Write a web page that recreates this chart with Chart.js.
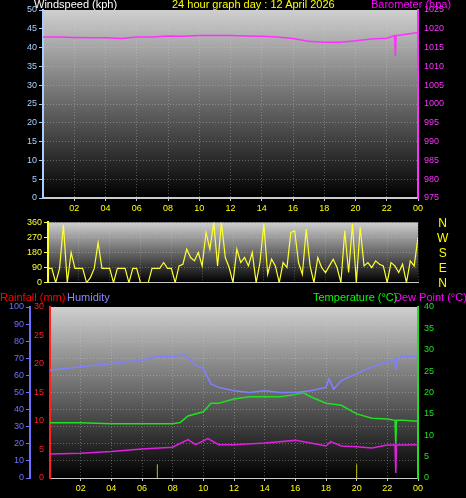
<!DOCTYPE html>
<html><head><meta charset="utf-8">
<script src="https://cdn.jsdelivr.net/npm/chart.js@4"></script>
<style>
body{margin:0;background:#000;width:466px;height:498px;overflow:hidden;font-family:"Liberation Sans",Arial,sans-serif;}
canvas{position:absolute;left:0;}
.t{position:absolute;font-size:11px;line-height:12px;white-space:nowrap;}
</style></head><body>
<canvas id="c1" width="466" height="215" style="top:0"></canvas>
<canvas id="c2" width="466" height="75" style="top:215px"></canvas>
<canvas id="c3" width="466" height="208" style="top:290px"></canvas>
<div class="t" style="left:34px;top:-2px;color:#fff">Windspeed (kph)</div>
<div class="t" style="left:172px;top:-2px;color:#ff0">24 hour graph day : 12 April 2026</div>
<div class="t" style="left:371px;top:-2px;color:#f0f">Barometer (hpa)</div>
<div class="t" style="left:437px;top:216px;color:#ff0;font-size:12px;line-height:15px;text-align:center">N<br>W<br>S<br>E<br>N</div>
<div class="t" style="left:0;top:291px;color:#f00">Rainfall (mm)</div>
<div class="t" style="left:67px;top:291px;color:#88f">Humidity</div>
<div class="t" style="left:313px;top:291px;color:#0f0">Temperature (°C)</div>
<div class="t" style="left:394px;top:291px;color:#f0f">Dew Point (°C)</div>
<script>
const hours=[0,1,2,3,4,5,6,7,8,9,10,11,12,13,14,15,16,17,18,19,20,21,22,22.5,22.55,22.6,23,24];
const pressure=[1017.8,1017.8,1017.7,1017.6,1017.6,1017.4,1017.8,1017.8,1018.1,1018.0,1018.2,1018.2,1018.2,1018.1,1018.0,1017.8,1017.4,1016.7,1016.4,1016.4,1016.8,1017.3,1017.5,1018.2,1012.8,1018.2,1018.4,1019.0];
const windSpeedHours=[0,24];
const windSpeed=[0,0];
const windDir=[85,85,0,85,345,0,180,85, 85,85,0,30,85,240,85,85, 85,0,85,85,85,0,85,85, 0,0,0,85,85,85,120,85,
85,0,100,110,200,150,130,180, 100,300,200,360,100,360,150,90, 0,200,120,150,100,180,0,120, 350,50,140,100,0,120,90,300,
310,120,50,320,100,0,150,90, 60,100,140,90,0,310,60,350, 0,330,100,120,90,130,110,100, 0,120,100,60,110,0,130,100,270];
const humHours=[0,2,4,6,7,8,8.8,9.5,10,10.5,11,12,13,14,15,16,17,18,18.2,18.5,19,20,21,22,22.5,22.55,22.6,23,24];
const humidity=[63,65,67,69,71,71,72,66,64,55,53,51,50,51,50,50,51,53,58,52,57,61,65,68,69,63,70,71,71];
const tempHours=[0,2,4,6,8,8.5,9,10,10.5,11,12,13,14,15,16,16.5,17,18,19,20,21,22,22.5,22.55,22.6,23,24];
const temperature=[12.9,12.9,12.7,12.7,12.7,13,14.5,15.5,17.5,17.5,18.5,19,19,19,19.5,20,19,17.5,17,15,14,13.8,13.5,8,13.5,13.5,13.3];
const dewHours=[0,2,4,6,8,9,9.5,10.3,11,12,14,16,17,18,18.3,19,20,21,22,22.5,22.55,22.6,23,24];
const dewPoint=[5.6,5.8,6.2,6.8,7.2,9,7.8,9.2,7.8,7.8,8.2,8.8,8.2,7.5,8.5,7.5,7.3,7,7.7,7.7,1.2,7.7,7.7,7.8];
const rainHours=[0,24];
const rainfall=[0,0];
const markHours=[7,20];
const markHeight=[3.2,3.2];
const xTicks=[2,4,6,8,10,12,14,16,18,20,22,24];
const xs=(h,v)=>h.map((x,i)=>({x,y:v[i]}));
const bg={id:'bg',beforeDraw(c){const a=c.chartArea,g=c.ctx.createLinearGradient(0,a.top,0,a.bottom);g.addColorStop(0,'#cfcfcf');g.addColorStop(1,'#000');c.ctx.fillStyle=g;c.ctx.fillRect(a.left,a.top,a.right-a.left,a.bottom-a.top);}};
Chart.defaults.font.family='"Liberation Sans",Arial,sans-serif';Chart.defaults.font.size=9;Chart.defaults.animation=false;
const gridC='rgba(210,210,210,0.35)';
function xAxis(show){return{type:'linear',min:0,max:24,afterBuildTicks:s=>{s.ticks=xTicks.map(v=>({value:v}));},
 ticks:{display:show,color:'#ffff00',callback:v=>String(v%24).padStart(2,'0'),maxRotation:0,padding:2},
 grid:{color:gridC,drawTicks:show,tickColor:'#ccc',tickLength:3},border:{dash:[1,2],color:'#ccc'},afterFit:s=>{s.height=show?17:0;}};}
function yAxis(pos,min,max,step,color,w,grid){return{position:pos,min,max,ticks:{stepSize:step,color,padding:2,callback:v=>String(v)},
 grid:{display:grid,color:gridC,tickColor:color,tickLength:4},border:{dash:[1,2],color:color,width:2},afterFit:s=>{s.width=w;}};}
const pts={pointRadius:0,borderWidth:1.5,tension:0};
new Chart(c1,{type:'line',plugins:[bg],data:{datasets:[
 {data:xs(windSpeedHours,windSpeed),borderColor:'#80ff80',...pts,borderWidth:2,yAxisID:'y'},
 {data:xs(hours,pressure),borderColor:'#ff30ff',...pts,yAxisID:'p'}]},
 options:{responsive:false,layout:{padding:{top:10,left:0,right:0,bottom:0}},plugins:{legend:{display:false},tooltip:{enabled:false}},
 scales:{x:xAxis(true),y:yAxis('left',0,50,5,'#a8d0ff',43,true),p:yAxis('right',975,1025,5,'#ff30ff',48,false)}}});
new Chart(c2,{type:'line',plugins:[bg],data:{datasets:[
 {data:windDir.map((v,i)=>({x:i*0.25,y:v})),borderColor:'#ffff30',...pts,borderWidth:1.2}]},
 options:{responsive:false,layout:{padding:{top:7,left:0,right:48,bottom:7}},plugins:{legend:{display:false},tooltip:{enabled:false}},
 scales:{x:xAxis(false),y:yAxis('left',0,360,90,'#ffff30',48,true)}}});
new Chart(c3,{type:'line',plugins:[bg],data:{datasets:[
 {data:xs(rainHours,rainfall),borderColor:'#ff0000',...pts,borderWidth:3,yAxisID:'r'},
 {data:xs(humHours,humidity),borderColor:'#8080ff',...pts,yAxisID:'h'},
 {data:xs(tempHours,temperature),borderColor:'#20e020',...pts,yAxisID:'t'},
 {data:xs(dewHours,dewPoint),borderColor:'#e020e0',...pts,yAxisID:'t'},
 {data:[{x:markHours[0],y:0},{x:markHours[0],y:markHeight[0]},{x:null,y:null},{x:markHours[1],y:0},{x:markHours[1],y:markHeight[1]}],borderColor:'#c0c000',...pts,borderWidth:1,spanGaps:false,yAxisID:'t'}]},
 options:{responsive:false,layout:{padding:{top:17,left:0,right:0,bottom:0}},plugins:{legend:{display:false},tooltip:{enabled:false}},
 scales:{x:{...xAxis(true),afterFit:s=>{s.height=20;}},
 r:yAxis('left',0,30,5,'#ff2020',20,false),
 h:yAxis('left',0,100,10,'#7070ff',30,true),
 t:yAxis('right',0,40,5,'#20e020',48,false)}}});
</script></body></html>
